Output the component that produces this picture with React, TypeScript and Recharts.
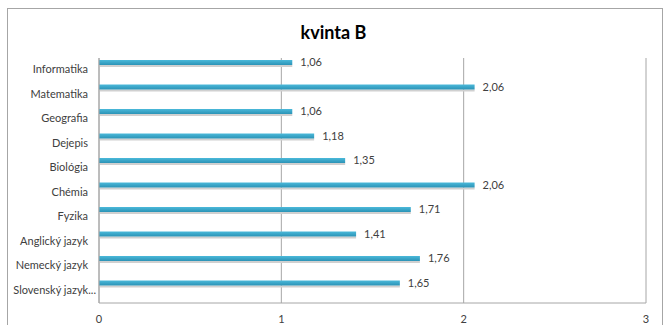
import React from 'react';
import { BarChart, Bar, XAxis, YAxis, CartesianGrid, LabelList } from 'recharts';

// kvinta B - priemerné známky podľa predmetu
const subjects = [
  'Informatika',
  'Matematika',
  'Geografia',
  'Dejepis',
  'Biológia',
  'Chémia',
  'Fyzika',
  'Anglický jazyk',
  'Nemecký jazyk',
  'Slovenský jazyk...',
];
const grades = [1.06, 2.06, 1.06, 1.18, 1.35, 2.06, 1.71, 1.41, 1.76, 1.65];
const xTicks = [0, 1, 2, 3];

const data = subjects.map((name, i) => ({ name, value: grades[i] }));

const FONT = 'Lato, "Open Sans", sans-serif';
const SHIFT = -8; // excel draws the thin bars above the band center

const fmt = (v: number) => v.toFixed(2).replace('.', ',');

const BarShape = (props: any) => {
  const { x, y, width, height } = props;
  const top = y + SHIFT;
  return (
    <g>
      <rect x={x} y={top + height} width={width} height={2} fill="#d0d0d0" />
      <rect x={x} y={top} width={width} height={height} fill="url(#barFill)" />
    </g>
  );
};

const ValueLabel = (props: any) => {
  const { x, y, width, height, value } = props;
  return (
    <text
      x={x + width + 8}
      y={y + SHIFT + height / 2 + 1}
      dominantBaseline="middle"
      fontSize={11}
      fontFamily={FONT}
      fill="#404040"
    >
      {fmt(value)}
    </text>
  );
};

// single-line category tick (no wrapping); truncated one overflows toward the axis like excel
const SubjectTick = (props: any) => {
  const { x, y, payload } = props;
  const cut = String(payload.value).endsWith('...');
  return (
    <text
      x={cut ? x + 8 : x}
      y={y}
      textAnchor="end"
      dominantBaseline="middle"
      fontSize={11}
      fontFamily={FONT}
      fill="#404040"
    >
      {payload.value}
    </text>
  );
};

export default function App() {
  return (
    <div style={{ position: 'absolute', left: 0, top: 0, width: 667, height: 325, overflow: 'hidden', background: '#fff' }}>
      <div
        style={{
          position: 'absolute',
          left: 7,
          top: 8,
          width: 656,
          height: 340,
          boxSizing: 'border-box',
          border: '1px solid #a6a6a6',
        }}
      />
      <div
        style={{
          position: 'absolute',
          left: 0,
          width: 667,
          top: 20,
          textAlign: 'center',
          fontFamily: FONT,
          fontWeight: 'bold',
          fontSize: 18,
          lineHeight: '24px',
          color: '#000',
        }}
      >
        kvinta B
      </div>
      <div style={{ position: 'absolute', left: 0, top: 0 }}>
        <BarChart
          width={667}
          height={325}
          data={data}
          layout="vertical"
          margin={{ top: 58, right: 21, bottom: 0, left: 0 }}
          barCategoryGap={0}
        >
          <defs>
            <linearGradient id="barFill" x1="0" y1="0" x2="0" y2="1">
              <stop offset="0%" stopColor="#4bb9da" />
              <stop offset="100%" stopColor="#2b93b6" />
            </linearGradient>
          </defs>
          <CartesianGrid horizontal={false} stroke="#a6a6a6" />
          <XAxis
            type="number"
            domain={[0, 3]}
            ticks={xTicks}
            height={22}
            tickSize={0}
            tickMargin={12}
            axisLine={{ stroke: '#a6a6a6' }}
            tick={{ fontSize: 11, fontFamily: FONT, fill: '#404040' }}
          />
          <YAxis
            type="category"
            dataKey="name"
            width={99}
            tickSize={0}
            tickMargin={11}
            interval={0}
            axisLine={{ stroke: '#a6a6a6' }}
            tick={SubjectTick}
          />
          <Bar dataKey="value" barSize={5} shape={BarShape} isAnimationActive={false}>
            <LabelList dataKey="value" content={ValueLabel} />
          </Bar>
        </BarChart>
      </div>
    </div>
  );
}
